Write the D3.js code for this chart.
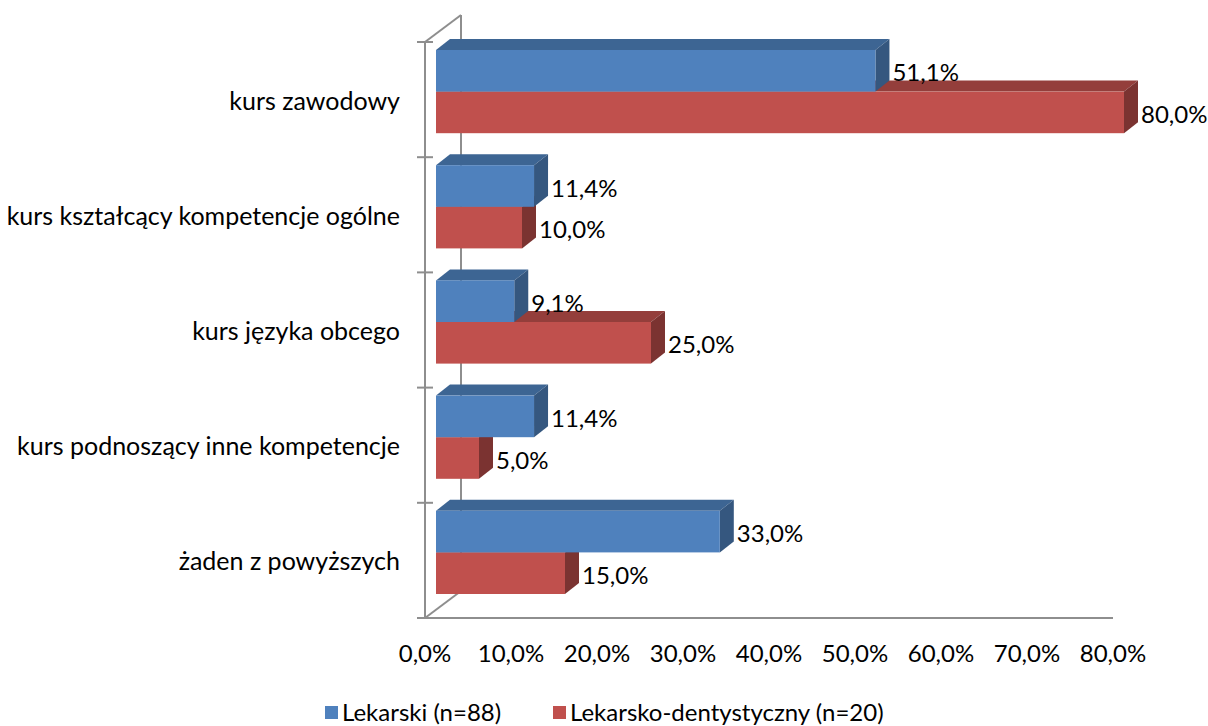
<!DOCTYPE html>
<html>
<head>
<meta charset="utf-8">
<script src="https://cdn.jsdelivr.net/npm/d3@7"></script>
<style>
  html, body { margin: 0; padding: 0; background: #ffffff; }
  svg { display: block; }
  text { font-family: Lato, "Open Sans", sans-serif; fill: #000; }
</style>
</head>
<body>
<svg id="chart" width="1208" height="726"></svg>
<script>
// ---- data ----
const categories = [
  "kurs zawodowy",
  "kurs kształcący kompetencje ogólne",
  "kurs języka obcego",
  "kurs podnoszący inne kompetencje",
  "żaden z powyższych"
];
const seriesNames = ["Lekarski (n=88)", "Lekarsko-dentystyczny (n=20)"];
const lekarski = [51.1, 11.4, 9.1, 11.4, 33.0];
const dentystyczny = [80.0, 10.0, 25.0, 5.0, 15.0];
const xTicks = [0, 10, 20, 30, 40, 50, 60, 70, 80];

// ---- styles ----
const colors = {
  front: ["#4f81bd", "#c0504d"],
  top:   ["#3d6593", "#943e3b"],
  side:  ["#35577f", "#7b3331"]
};
const axisColor = "#8e8e8e";
const fontSize = 24;

const svg = d3.select("#chart");
const locale = d3.formatLocale({decimal: ",", thousands: " ", grouping: [3], currency: ["", ""]});
const fmt = v => locale.format(".1f")(v) + "%";

// ---- scales (front plane) ----
const x = d3.scaleLinear().domain([0, 80]).range([425, 1113]);
const y = d3.scaleBand().domain(categories).range([42, 618]).paddingInner(0).paddingOuter(0);
const inner = d3.scaleBand().domain([0, 1]).range([16, y.bandwidth() - 16]);

// 3D offsets
const wallD = {dx: 36, dy: -27};
const barShift = {dx: 11, dy: -8};
const barD = {dx: 14, dy: -11};

// ---- walls / axes ----
const g = svg.append("g");
const x0 = x(0), yTop = y.range()[0], yBot = y.range()[1];
const lines = [
  [x0 + wallD.dx, yTop + wallD.dy, x0 + wallD.dx, yBot + wallD.dy], // back wall edge
  [x0, yTop, x0 + wallD.dx, yTop + wallD.dy],                       // top diagonal
  [x0, yBot, x0 + wallD.dx, yBot + wallD.dy],                       // floor diagonal
  [x0, yTop, x0, yBot],                                             // front vertical axis
  [x0, yBot, x(80), yBot]                                           // floor front line
];
g.selectAll("line.wall").data(lines).join("line")
  .attr("class", "wall")
  .attr("x1", d => d[0]).attr("y1", d => d[1])
  .attr("x2", d => d[2]).attr("y2", d => d[3])
  .attr("stroke", axisColor).attr("stroke-width", 2);

// category tick marks at band boundaries
const boundaries = categories.map(c => y(c)).concat([yBot]);
g.selectAll("line.tick").data(boundaries).join("line")
  .attr("class", "tick")
  .attr("x1", x0 - 8).attr("x2", x0 + 8)
  .attr("y1", d => d).attr("y2", d => d)
  .attr("stroke", axisColor).attr("stroke-width", 2);

// ---- bars ----
const series = [lekarski, dentystyczny];
const barsG = svg.append("g");
const poly = pts => pts.map(p => p.join(",")).join(" ");

categories.forEach((cat, ci) => {
  // draw red (series 1) first, then blue on top
  [1, 0].forEach(si => {
    const v = series[si][ci];
    const xa = x(0) + barShift.dx;
    const xb = x(v) + barShift.dx;
    const ya = y(cat) + inner(si) + barShift.dy;
    const yb = ya + inner.bandwidth();
    const bg = barsG.append("g");
    bg.append("polygon")
      .attr("points", poly([[xa, ya], [xa + barD.dx, ya + barD.dy], [xb + barD.dx, ya + barD.dy], [xb, ya]]))
      .attr("fill", colors.top[si]);
    bg.append("polygon")
      .attr("points", poly([[xb, ya], [xb + barD.dx, ya + barD.dy], [xb + barD.dx, yb + barD.dy], [xb, yb]]))
      .attr("fill", colors.side[si]);
    bg.append("rect")
      .attr("x", xa).attr("y", ya)
      .attr("width", xb - xa).attr("height", yb - ya)
      .attr("fill", colors.front[si]);
  });
});

// ---- data labels ----
const labelsG = svg.append("g");
categories.forEach((cat, ci) => {
  [0, 1].forEach(si => {
    const v = series[si][ci];
    const ya = y(cat) + inner(si) + barShift.dy;
    labelsG.append("text")
      .attr("x", x(v) + barShift.dx + barD.dx + 3)
      .attr("y", ya + inner.bandwidth() / 2 + 1)
      .attr("dominant-baseline", "central")
      .attr("font-size", fontSize)
      .text(fmt(v));
  });
});

// ---- category labels ----
svg.append("g").selectAll("text").data(categories).join("text")
  .attr("x", x0 - 25)
  .attr("y", d => y(d) + y.bandwidth() / 2)
  .attr("text-anchor", "end")
  .attr("dominant-baseline", "central")
  .attr("font-size", 25)
  .text(d => d);

// ---- x tick labels ----
svg.append("g").selectAll("text").data(xTicks).join("text")
  .attr("x", d => x(d))
  .attr("y", 652)
  .attr("text-anchor", "middle")
  .attr("dominant-baseline", "central")
  .attr("font-size", fontSize)
  .text(d => fmt(d));

// ---- legend ----
const legendItems = [
  {name: seriesNames[0], color: colors.front[0], x: 325},
  {name: seriesNames[1], color: colors.front[1], x: 553}
];
const lg = svg.append("g");
legendItems.forEach(it => {
  lg.append("rect").attr("x", it.x).attr("y", 706).attr("width", 13).attr("height", 13).attr("fill", it.color);
  lg.append("text").attr("x", it.x + 17).attr("y", 711)
    .attr("dominant-baseline", "central").attr("font-size", 24).text(it.name);
});
</script>
</body>
</html>
